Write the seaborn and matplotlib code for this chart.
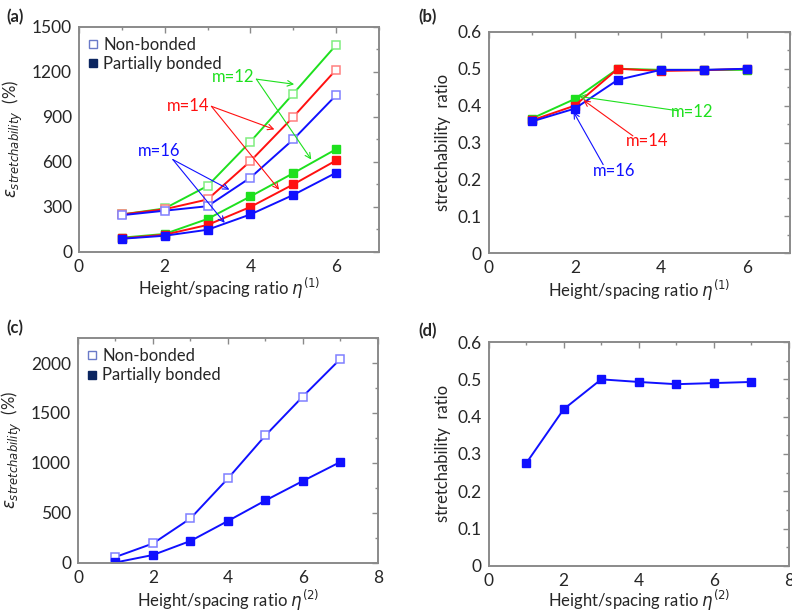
import numpy as np
import pandas as pd
import matplotlib
matplotlib.use("Agg")
import matplotlib.pyplot as plt
from matplotlib.ticker import MultipleLocator, FuncFormatter
import seaborn as sns

# ---------------- data ----------------
eta1 = [1, 2, 3, 4, 5, 6]
eta2 = [1, 2, 3, 4, 5, 6, 7]

# panel (a): stretchability (%)
a_nb_m12 = [250, 290, 440, 735, 1055, 1380]
a_nb_m14 = [250, 285, 350, 605, 900, 1215]
a_nb_m16 = [245, 275, 305, 495, 750, 1045]
a_pb_m12 = [95, 120, 220, 370, 525, 685]
a_pb_m14 = [90, 115, 180, 300, 450, 610]
a_pb_m16 = [88, 108, 148, 250, 380, 528]

# panel (b): stretchability ratio
b_m12 = [0.365, 0.418, 0.500, 0.497, 0.497, 0.497]
b_m14 = [0.360, 0.400, 0.500, 0.494, 0.496, 0.500]
b_m16 = [0.357, 0.392, 0.470, 0.497, 0.497, 0.500]

# panel (c)
c_nb = [60, 195, 445, 845, 1275, 1665, 2040]
c_pb = [5, 80, 220, 420, 625, 820, 1010]

# panel (d)
d_ratio = [0.275, 0.420, 0.500, 0.493, 0.487, 0.490, 0.493]

m_labels = ["m=12", "m=14", "m=16"]

# ---------------- style ----------------
sns.set_style("white")
plt.rcParams["font.family"] = ["Lato", "DejaVu Sans"]
plt.rcParams["mathtext.fontset"] = "dejavusans"

GREEN = "#1ee01e"
RED = "#ff1010"
BLUE = "#1010ff"
LGREEN = "#80ee80"
LRED = "#ff8080"
LBLUE = "#8080ff"
SPINE = "#8a8a8a"
TICKFS = 12.5
LABFS = 12
MS = 6.2

fig = plt.figure(figsize=(7.92, 6.13), dpi=100)
axA = fig.add_axes([0.0997, 0.589, 0.3788, 0.367])
axB = fig.add_axes([0.617, 0.587, 0.3805, 0.361])
axC = fig.add_axes([0.0985, 0.0816, 0.3785, 0.367])
axD = fig.add_axes([0.617, 0.077, 0.379, 0.365])


def ratio_fmt(v, pos):
    return "0" if abs(v) < 1e-9 else f"{v:.1f}"


def style_axes(ax, xmaj, xmin, ymaj, ymin, xlim, ylim, ratio=False):
    ax.set_xlim(*xlim)
    ax.set_ylim(*ylim)
    ax.xaxis.set_major_locator(MultipleLocator(xmaj))
    ax.xaxis.set_minor_locator(MultipleLocator(xmin))
    ax.yaxis.set_major_locator(MultipleLocator(ymaj))
    ax.yaxis.set_minor_locator(MultipleLocator(ymin))
    if ratio:
        ax.yaxis.set_major_formatter(FuncFormatter(ratio_fmt))
    ax.tick_params(which="both", direction="in", top=True, right=True,
                   color=SPINE, labelsize=TICKFS, pad=5)
    ax.tick_params(which="major", length=4, width=1)
    ax.tick_params(which="minor", length=2.5, width=1)
    for s in ax.spines.values():
        s.set_color(SPINE)
        s.set_linewidth(1.4)


def series(ax, x, y, color, hollow=False, edge=None):
    df = pd.DataFrame({"x": x, "y": y})
    if hollow:
        sns.lineplot(data=df, x="x", y="y", ax=ax, color=color, lw=1.4,
                     marker="s", markersize=MS, markerfacecolor="white",
                     markeredgecolor=edge, markeredgewidth=1.1)
    else:
        sns.lineplot(data=df, x="x", y="y", ax=ax, color=color, lw=1.4,
                     marker="s", markersize=MS, markerfacecolor=color,
                     markeredgecolor=color, markeredgewidth=1.0)


def add_legend(ax):
    h1 = plt.Line2D([], [], ls="none", marker="s", markersize=5.5,
                    markerfacecolor="white", markeredgecolor="#6a7ac8",
                    markeredgewidth=1.0)
    h2 = plt.Line2D([], [], ls="none", marker="s", markersize=5.5,
                    markerfacecolor="#0b2560", markeredgecolor="#0b2560")
    ax.legend([h1, h2], ["Non-bonded", "Partially bonded"], loc="upper left",
              frameon=False, fontsize=LABFS, handlelength=0.5,
              handletextpad=0.35, borderaxespad=0.35, labelspacing=0.2,
              borderpad=0.25)


ylab_eps = r"$\varepsilon_{stretchability}$" + "  (%)"

# ---------------- (a) ----------------
style_axes(axA, 2, 1, 300, 150, (0, 7), (0, 1500))
series(axA, eta1, a_nb_m12, GREEN, True, LGREEN)
series(axA, eta1, a_nb_m14, RED, True, LRED)
series(axA, eta1, a_nb_m16, BLUE, True, LBLUE)
series(axA, eta1, a_pb_m12, GREEN)
series(axA, eta1, a_pb_m14, RED)
series(axA, eta1, a_pb_m16, BLUE)
add_legend(axA)
axA.set_xlabel(r"Height/spacing ratio $\eta^{(1)}$", fontsize=LABFS, labelpad=1)
axA.set_ylabel(ylab_eps, fontsize=LABFS, labelpad=5)

arrow_kw = dict(arrowstyle="->", lw=0.8, shrinkA=0, shrinkB=0)
for tip in [(5.02, 1118), (5.42, 616)]:
    axA.annotate("", xy=tip, xytext=(4.14, 1152),
                 arrowprops=dict(color=GREEN, **arrow_kw))
axA.text(3.6, 1165, m_labels[0], color=GREEN, fontsize=LABFS,
         ha="center", va="center")
for tip in [(4.56, 817), (4.67, 415)]:
    axA.annotate("", xy=tip, xytext=(3.09, 971),
                 arrowprops=dict(color=RED, **arrow_kw))
axA.text(2.55, 971, m_labels[1], color=RED, fontsize=LABFS,
         ha="center", va="center")
for tip in [(3.51, 415), (3.40, 194)]:
    axA.annotate("", xy=tip, xytext=(2.19, 616),
                 arrowprops=dict(color=BLUE, **arrow_kw))
axA.text(1.86, 676, m_labels[2], color=BLUE, fontsize=LABFS,
         ha="center", va="center")

# ---------------- (b) ----------------
style_axes(axB, 2, 1, 0.1, 0.05, (0, 7), (0, 0.6), ratio=True)
series(axB, eta1, b_m12, GREEN)
series(axB, eta1, b_m14, RED)
series(axB, eta1, b_m16, BLUE)
axB.set_xlabel(r"Height/spacing ratio $\eta^{(1)}$", fontsize=LABFS, labelpad=1)
axB.set_ylabel("stretchability  ratio", fontsize=LABFS, labelpad=5)
axB.annotate("", xy=(2.1, 0.425), xytext=(4.4, 0.386),
             arrowprops=dict(color=GREEN, **arrow_kw))
axB.text(4.72, 0.382, m_labels[0], color=GREEN, fontsize=LABFS,
         ha="center", va="center")
axB.annotate("", xy=(2.2, 0.415), xytext=(3.35, 0.318),
             arrowprops=dict(color=RED, **arrow_kw))
axB.text(3.68, 0.303, m_labels[1], color=RED, fontsize=LABFS,
         ha="center", va="center")
axB.annotate("", xy=(1.97, 0.383), xytext=(2.66, 0.24),
             arrowprops=dict(color=BLUE, **arrow_kw))
axB.text(2.92, 0.222, m_labels[2], color=BLUE, fontsize=LABFS,
         ha="center", va="center")

# ---------------- (c) ----------------
style_axes(axC, 2, 1, 500, 250, (0, 8), (0, 2250))
series(axC, eta2, c_nb, BLUE, True, LBLUE)
series(axC, eta2, c_pb, BLUE)
add_legend(axC)
axC.set_xlabel(r"Height/spacing ratio $\eta^{(2)}$", fontsize=LABFS, labelpad=1)
axC.set_ylabel(ylab_eps, fontsize=LABFS, labelpad=5)

# ---------------- (d) ----------------
style_axes(axD, 2, 1, 0.1, 0.05, (0, 8), (0, 0.6), ratio=True)
series(axD, eta2, d_ratio, BLUE)
axD.set_xlabel(r"Height/spacing ratio $\eta^{(2)}$", fontsize=LABFS, labelpad=-1)
axD.set_ylabel("stretchability  ratio", fontsize=LABFS, labelpad=5)

# panel letters
for txt, (x, y) in zip(["(a)", "(b)", "(c)", "(d)"],
                       [(0.008, 0.972), (0.528, 0.972), (0.008, 0.465), (0.528, 0.46)]):
    fig.text(x, y, txt, fontsize=12, fontweight="bold", ha="left", va="center")

fig.savefig("out.png", dpi=100)
